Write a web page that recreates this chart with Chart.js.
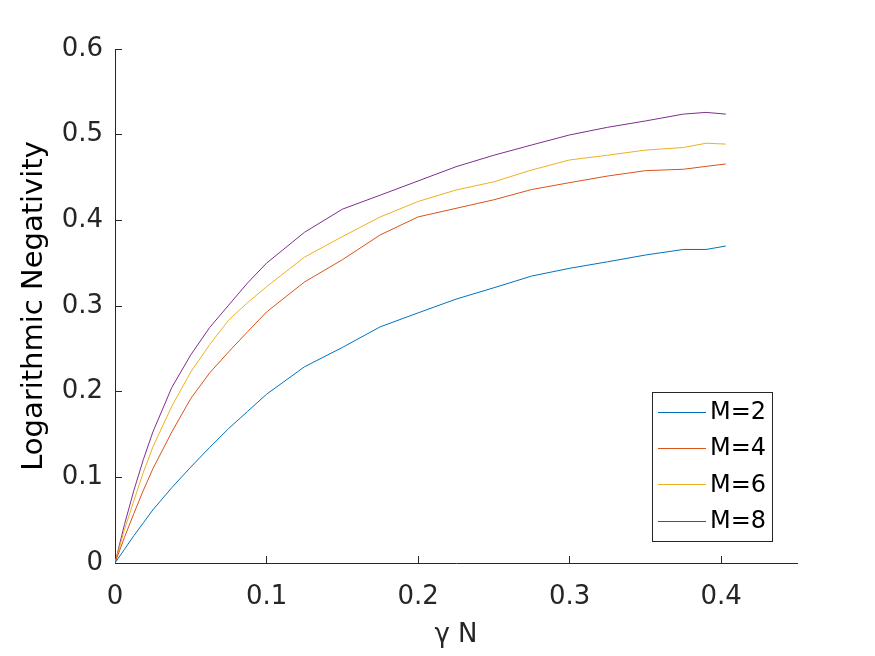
<!DOCTYPE html>
<html>
<head>
<meta charset="utf-8">
<script src="https://cdn.jsdelivr.net/npm/chart.js@4.4.0/dist/chart.umd.min.js"></script>
<style>
    html, body { margin: 0; padding: 0; background: #fff; }
    #wrap { width: 875px; height: 656px; }
</style>
</head>
<body>
<div id="wrap"><canvas id="lnChart"></canvas></div>
<script>
// gamma*N sample positions
const gammaN = [0, 0.00625, 0.0125, 0.01875, 0.025, 0.0375, 0.05, 0.0625, 0.075, 0.0875, 0.1, 0.125,
    0.15, 0.175, 0.2, 0.225, 0.25, 0.275, 0.3, 0.325, 0.35, 0.375, 0.39, 0.403];

// logarithmic negativity per M
const lnM2 = [0, 0.016, 0.032, 0.047, 0.062, 0.088, 0.112, 0.135, 0.157, 0.177, 0.197, 0.229,
    0.2516, 0.2757, 0.292, 0.308, 0.3213, 0.335, 0.344, 0.3516, 0.3595, 0.366, 0.366, 0.370];
const lnM4 = [0, 0.030, 0.058, 0.085, 0.110, 0.153, 0.192, 0.222, 0.2465, 0.270, 0.293, 0.328,
    0.354, 0.383, 0.404, 0.414, 0.424, 0.436, 0.444, 0.4517, 0.458, 0.4596, 0.463, 0.4658];
const lnM6 = [0, 0.039, 0.073, 0.106, 0.1355, 0.183, 0.223, 0.255, 0.2835, 0.304, 0.3225, 0.357,
    0.381, 0.404, 0.422, 0.4354, 0.445, 0.4588, 0.4705, 0.476, 0.482, 0.485, 0.490, 0.489];
const lnM8 = [0, 0.045, 0.085, 0.121, 0.153, 0.205, 0.243, 0.275, 0.301, 0.327, 0.350, 0.386,
    0.413, 0.4294, 0.446, 0.4626, 0.476, 0.488, 0.4997, 0.5086, 0.516, 0.524, 0.526, 0.524];

const seriesLabels = ['M=2', 'M=4', 'M=6', 'M=8'];
const seriesColors = ['#0072BD', '#D95319', '#EDB120', '#7E2F8E'];
const seriesData = [lnM2, lnM4, lnM6, lnM8];

const xTicks = [0, 0.1, 0.2, 0.3, 0.4];
const yTicks = [0, 0.1, 0.2, 0.3, 0.4, 0.5, 0.6];

const axisColor = '#262626';
const fontFamily = '"DejaVu Sans", "Liberation Sans", Arial, sans-serif';

// MATLAB-like boxed legend in the lower right of the axes
const boxLegend = {
    id: 'boxLegend',
    afterDraw(chart) {
        const ctx = chart.ctx;
        const area = chart.chartArea;
        const w = 120, h = 149;
        const x0 = area.right - 25 - w;
        const y0 = area.bottom - 22 - h;
        ctx.save();
        ctx.fillStyle = '#fff';
        ctx.fillRect(x0, y0, w, h);
        ctx.strokeStyle = axisColor;
        ctx.lineWidth = 1;
        ctx.strokeRect(x0 + 0.5, y0 + 0.5, w, h);
        ctx.font = '24px ' + fontFamily;
        ctx.textBaseline = 'middle';
        ctx.fillStyle = '#000';
        chart.data.datasets.forEach((ds, i) => {
            const cy = y0 + 20 + i * 36.2;
            ctx.strokeStyle = ds.borderColor;
            ctx.beginPath();
            ctx.moveTo(x0 + 6, Math.round(cy) + 0.5);
            ctx.lineTo(x0 + 54, Math.round(cy) + 0.5);
            ctx.stroke();
            ctx.fillText(ds.label, x0 + 58, cy + 1);
        });
        ctx.restore();
    }
};

new Chart(document.getElementById('lnChart'), {
    type: 'line',
    data: {
        datasets: seriesData.map((vals, i) => ({
            label: seriesLabels[i],
            data: vals.map((v, k) => ({ x: gammaN[k], y: v })),
            borderColor: seriesColors[i],
            backgroundColor: seriesColors[i],
            borderWidth: 1,
            pointRadius: 0,
            tension: 0,
            fill: false
        }))
    },
    options: {
        responsive: true,
        maintainAspectRatio: false,
        animation: false,
        layout: { padding: { left: 0, top: 49, right: 78, bottom: 0 } },
        plugins: {
            legend: { display: false },
            tooltip: { enabled: false }
        },
        scales: {
            x: {
                type: 'linear',
                min: 0,
                max: 0.45,
                afterFit: s => { s.height = 93; },
                afterBuildTicks: s => { s.ticks = xTicks.map(v => ({ value: v })); },
                border: { display: true, color: axisColor, width: 1 },
                grid: { drawOnChartArea: false, drawTicks: true, tickLength: -7, color: axisColor },
                ticks: {
                    color: axisColor,
                    padding: 26,
                    font: { family: fontFamily, size: 26 },
                    callback: v => String(+v.toFixed(1))
                },
                title: {
                    display: true,
                    text: 'γ N',
                    color: axisColor,
                    font: { family: fontFamily, size: 26 },
                    padding: { top: 0, bottom: 5 }
                }
            },
            y: {
                type: 'linear',
                min: 0,
                max: 0.6,
                afterFit: s => { s.width = 115; },
                afterBuildTicks: s => { s.ticks = yTicks.map(v => ({ value: v })); },
                border: { display: true, color: axisColor, width: 1 },
                grid: { drawOnChartArea: false, drawTicks: true, tickLength: -7, color: axisColor },
                ticks: {
                    color: axisColor,
                    padding: 19,
                    font: { family: fontFamily, size: 26 },
                    callback: v => String(+v.toFixed(1))
                },
                title: {
                    display: true,
                    text: 'Logarithmic Negativity',
                    color: '#000',
                    font: { family: fontFamily, size: 29 },
                    padding: { top: 17, bottom: 0 }
                }
            }
        }
    },
    plugins: [boxLegend]
});
</script>
</body>
</html>
